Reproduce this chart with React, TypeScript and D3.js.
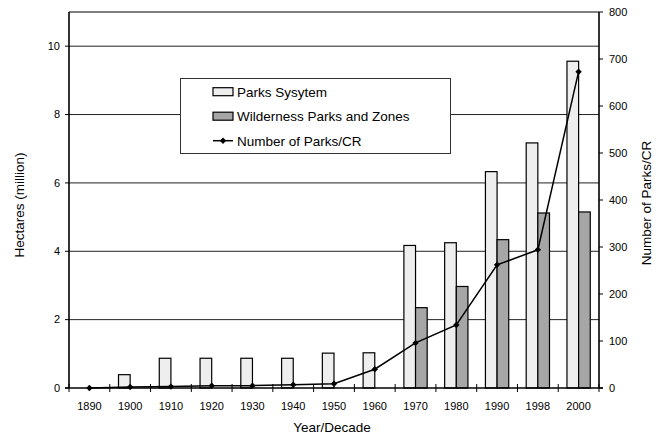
import React from "react";
import * as d3 from "d3";

const years = ["1890", "1900", "1910", "1920", "1930", "1940", "1950", "1960", "1970", "1980", "1990", "1998", "2000"];
const parksSystem = [0, 0.39, 0.87, 0.87, 0.87, 0.87, 1.02, 1.03, 4.17, 4.25, 6.33, 7.17, 9.56];
const wilderness = [0, 0, 0, 0, 0, 0, 0, 0, 2.35, 2.97, 4.34, 5.12, 5.15];
const numParks = [0, 2, 3, 5, 5, 7, 9, 40, 96, 134, 262, 294, 673];
const leftTicks = [0, 2, 4, 6, 8, 10];
const rightTicks = [0, 100, 200, 300, 400, 500, 600, 700, 800];
const legendItems = ["Parks Sysytem", "Wilderness Parks and Zones", "Number of Parks/CR"];

const W = 658;
const H = 439;
const left = 69;
const right = 599;
const top = 12;
const bottom = 388;
const font = "'Liberation Sans', Arial, sans-serif";

const App: React.FC = () => {
    const x = d3.scaleBand<string>().domain(years).range([left, right]).padding(0);
    const yL = d3.scaleLinear().domain([0, 11]).range([bottom, top]);
    const yR = d3.scaleLinear().domain([0, 800]).range([bottom, top]);
    const bw = x.bandwidth() / 3.5;
    const cx = (y: string) => (x(y) as number) + x.bandwidth() / 2;

    const line = d3
        .line<number>()
        .x((_, i) => cx(years[i]))
        .y((d) => yR(d));

    const diamond = (px: number, py: number, r = 3.2) =>
        `M${px},${py - r}L${px + r},${py}L${px},${py + r}L${px - r},${py}Z`;

    const boundaries = d3.range(years.length + 1).map((i) => left + i * x.bandwidth());

    return (
        <svg
            width={W}
            height={H}
            style={{ position: "absolute", left: 0, top: 0, background: "#fff" }}
            fontFamily={font}
        >
            {/* gridlines */}
            {leftTicks.slice(1).map((t) => (
                <line key={"g" + t} x1={left} x2={right} y1={yL(t)} y2={yL(t)} stroke="#222" strokeWidth={1} />
            ))}
            {/* frame top */}
            <line x1={left} x2={right} y1={top} y2={top} stroke="#000" strokeWidth={1.2} />

            {/* bars */}
            {years.map((y, i) =>
                parksSystem[i] > 0 ? (
                    <rect
                        key={"p" + y}
                        x={cx(y) - bw}
                        y={yL(parksSystem[i])}
                        width={bw}
                        height={bottom - yL(parksSystem[i])}
                        fill="#eeeeee"
                        stroke="#000"
                        strokeWidth={1.2}
                    />
                ) : null
            )}
            {years.map((y, i) =>
                wilderness[i] > 0 ? (
                    <rect
                        key={"w" + y}
                        x={cx(y)}
                        y={yL(wilderness[i])}
                        width={bw}
                        height={bottom - yL(wilderness[i])}
                        fill="#a6a6a6"
                        stroke="#000"
                        strokeWidth={1.2}
                    />
                ) : null
            )}

            {/* line series */}
            <path d={line(numParks) || ""} fill="none" stroke="#000" strokeWidth={1.5} />
            {numParks.map((v, i) => (
                <path key={"m" + i} d={diamond(cx(years[i]), yR(v))} fill="#000" />
            ))}

            {/* left axis */}
            <line x1={left} x2={left} y1={top} y2={bottom} stroke="#000" strokeWidth={1.6} />
            {leftTicks.map((t) => (
                <g key={"l" + t}>
                    <line x1={left - 4} x2={left} y1={yL(t)} y2={yL(t)} stroke="#000" />
                    <text x={60} y={yL(t)} dy="0.35em" textAnchor="end" fontSize={11}>
                        {t}
                    </text>
                </g>
            ))}

            {/* right axis */}
            <line x1={right} x2={right} y1={top} y2={bottom} stroke="#000" strokeWidth={1.6} />
            {rightTicks.map((t) => (
                <g key={"r" + t}>
                    <line x1={right} x2={right + 4} y1={yR(t)} y2={yR(t)} stroke="#000" />
                    <text x={609} y={yR(t)} dy="0.35em" textAnchor="start" fontSize={11}>
                        {t}
                    </text>
                </g>
            ))}

            {/* bottom axis */}
            <line x1={left - 4} x2={right + 4} y1={bottom} y2={bottom} stroke="#000" strokeWidth={1.6} />
            {boundaries.map((b, i) => (
                <line key={"b" + i} x1={b} x2={b} y1={bottom - 4} y2={bottom + 4} stroke="#000" />
            ))}
            {years.map((y) => (
                <text key={"xl" + y} x={cx(y)} y={410} textAnchor="middle" fontSize={11}>
                    {y}
                </text>
            ))}

            {/* axis titles */}
            <text x={332} y={432} textAnchor="middle" fontSize={13.5}>
                Year/Decade
            </text>
            <text transform="translate(24,205) rotate(-90)" textAnchor="middle" fontSize={13.5}>
                Hectares (million)
            </text>
            <text transform="translate(651,203) rotate(-90)" textAnchor="middle" fontSize={13.5}>
                Number of Parks/CR
            </text>

            {/* legend */}
            <rect x={180.5} y={78.5} width={270} height={75} fill="#fff" stroke="#333" strokeWidth={1} />
            {legendItems.map((name, i) => {
                const cy = 91.7 + i * 24.5;
                return (
                    <g key={"lg" + i}>
                        {i < 2 ? (
                            <rect
                                x={213}
                                y={cy - 4}
                                width={20}
                                height={8}
                                fill={i === 0 ? "#eeeeee" : "#a6a6a6"}
                                stroke="#000"
                                strokeWidth={1.2}
                            />
                        ) : (
                            <g>
                                <line x1={213} x2={233} y1={cy} y2={cy} stroke="#000" strokeWidth={1.5} />
                                <path d={diamond(223, cy)} fill="#000" />
                            </g>
                        )}
                        <text x={237} y={cy} dy="0.36em" fontSize={13.5}>
                            {name}
                        </text>
                    </g>
                );
            })}
        </svg>
    );
};

export default App;
